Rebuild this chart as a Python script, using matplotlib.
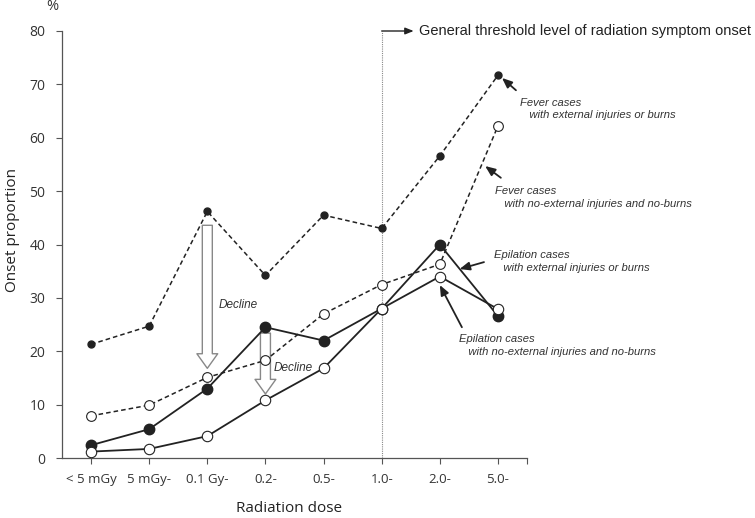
import matplotlib
matplotlib.use("Agg")
import matplotlib.pyplot as plt
from matplotlib.ticker import FixedLocator

categories = ["< 5 mGy", "5 mGy-", "0.1 Gy-", "0.2-", "0.5-", "1.0-", "2.0-", "5.0-"]
fever_ext = [21.3, 24.7, 46.2, 34.2, 45.5, 43.0, 56.6, 71.7]
fever_noext = [7.9, 9.9, 15.1, 18.3, 27.0, 32.5, 36.3, 62.2]
epil_ext = [2.4, 5.4, 13.0, 24.5, 22.0, 28.0, 40.0, 26.6]
epil_noext = [1.2, 1.7, 4.1, 10.8, 16.8, 28.0, 34.0, 27.9]
yticks = [0, 10, 20, 30, 40, 50, 60, 70, 80]

SANS = ["Open Sans", "DejaVu Sans"]
ARIAL = ["Liberation Sans", "DejaVu Sans"]
DARK = "#222222"

fig = plt.figure(figsize=(7.55, 5.18), dpi=100)
ax = fig.add_axes([62 / 755, 1 - 458 / 518, (527 - 62) / 755, (458 - 31) / 518])
x = list(range(len(categories)))

ax.plot(x, fever_ext, ls=(0, (3, 2)), lw=1.1, color=DARK, marker="o", ms=5,
        mfc=DARK, mec=DARK, zorder=3)
ax.plot(x, fever_noext, ls=(0, (3, 2)), lw=1.1, color=DARK, marker="o", ms=7,
        mfc="white", mec=DARK, mew=0.8, zorder=3)
ax.plot(x, epil_ext, ls="-", lw=1.3, color=DARK, marker="o", ms=7.5,
        mfc=DARK, mec=DARK, zorder=4)
ax.plot(x, epil_noext, ls="-", lw=1.3, color=DARK, marker="o", ms=7.5,
        mfc="white", mec=DARK, mew=0.8, zorder=4)

ax.set_xlim(-0.5, len(categories) - 0.5)
ax.set_ylim(0, 80)
ax.set_xticks(x)
ax.set_xticklabels(categories, fontfamily=SANS, fontsize=9.5, color="#333333")
ax.xaxis.set_minor_locator(FixedLocator([len(categories) - 0.5]))
ax.set_yticks(yticks)
ax.set_yticklabels([str(v) for v in yticks], fontfamily=SANS, fontsize=10, color="#333333")
ax.tick_params(axis="x", which="both", length=4, width=0.8, color="#555555", pad=7)
ax.tick_params(axis="y", length=4, width=0.8, color="#555555", pad=8)
for s in ["top", "right"]:
    ax.spines[s].set_visible(False)
for s in ["left", "bottom"]:
    ax.spines[s].set_color("#555555")
    ax.spines[s].set_linewidth(0.9)

ax.set_xlabel("Radiation dose", fontfamily=SANS, fontsize=11, color="#222222")
ax.xaxis.set_label_coords((289 - 62) / 465, (458 - 509) / 427)
ax.xaxis.label.set_va("center")
ax.set_ylabel("Onset proportion", fontfamily=SANS, fontsize=11, color="#222222")
ax.yaxis.set_label_coords((13 - 62) / 465, (458 - 230) / 427)
ax.yaxis.label.set_va("center")
fig.text(52 / 755, 1 - 7 / 518, "%", fontfamily=SANS, fontsize=10.5, color="#333333",
         ha="center", va="center")

# threshold line at 1.0 Gy
thr = categories.index("1.0-")
ax.plot([thr, thr], [0, 80], ls=(0, (1, 1)), lw=0.8, color="#888888", zorder=1, clip_on=False)
ax.annotate("", xy=(thr + 0.55, 80), xytext=(thr, 80),
            arrowprops=dict(arrowstyle="-|>,head_length=0.5,head_width=0.2", color=DARK, lw=1.0,
                            shrinkA=0, shrinkB=0), annotation_clip=False)
ax.text(thr + 0.64, 80, "General threshold level of radiation symptom onset",
        fontfamily=ARIAL, fontsize=10.5, color="#222222", va="center", ha="left", clip_on=False)

# Decline arrows
decl = dict(arrowstyle="simple,head_length=1.05,head_width=1.5,tail_width=0.72",
            fc="white", ec="#888888", lw=1.0, shrinkA=0, shrinkB=0)
i1 = categories.index("0.1 Gy-")
i2 = categories.index("0.2-")
ax.annotate("", xy=(i1, 16.8), xytext=(i1, 43.6), arrowprops=decl, zorder=2)
ax.annotate("", xy=(i2, 12.0), xytext=(i2, 23.4), arrowprops=decl, zorder=2)
ax.text(i1 + 0.19, 28.7, "Decline", fontfamily=ARIAL, fontstyle="italic", fontsize=8.5,
        color="#333333", va="center")
ax.text(i2 + 0.14, 16.9, "Decline", fontfamily=ARIAL, fontstyle="italic", fontsize=8.5,
        color="#333333", va="center")

# series annotations
ann_arrow = dict(arrowstyle="-|>,head_length=0.6,head_width=0.25", color=DARK, lw=1.3,
                 shrinkA=0, shrinkB=0)
labels = [
    ("Fever cases\n   with external injuries or burns", (7.38, 65.4), (7.31, 68.9), (7.07, 71.2)),
    ("Fever cases\n   with no-external injuries and no-burns", (6.95, 48.8), (7.05, 52.5), (6.78, 54.7)),
    ("Epilation cases\n   with external injuries or burns", (6.93, 36.8), (6.76, 36.7), (6.34, 35.4)),
    ("Epilation cases\n   with no-external injuries and no-burns", (6.33, 21.1), (6.38, 24.5), (6.0, 32.4)),
]
for txt, tpos, a0, a1 in labels:
    ax.text(tpos[0], tpos[1], txt, fontfamily=ARIAL, fontstyle="italic", fontsize=8.1,
            color="#333333", va="center", ha="left", linespacing=1.3, clip_on=False)
    ax.annotate("", xy=a1, xytext=a0, arrowprops=ann_arrow, annotation_clip=False)

fig.savefig("out.png", dpi=100)
